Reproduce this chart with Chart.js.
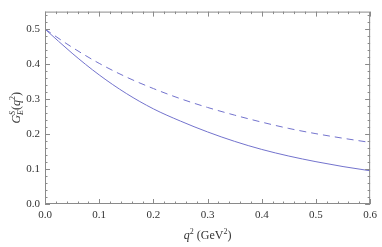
<!DOCTYPE html>
<html>
<head>
<meta charset="utf-8">
<script src="https://cdn.jsdelivr.net/npm/chart.js@4.4.0/dist/chart.umd.min.js"></script>
<style>
  body { margin: 0; background: #fff; }
  canvas { display: block; }
</style>
</head>
<body>
<canvas id="myChart" width="382" height="247"></canvas>
<script>
// values
const qValues      = [0.0, 0.05, 0.1, 0.15, 0.2, 0.25, 0.3, 0.35, 0.4, 0.45, 0.5, 0.55, 0.6];
const solidValues  = [0.500, 0.431, 0.369, 0.316, 0.272, 0.237, 0.206, 0.179, 0.156, 0.137, 0.121, 0.107, 0.095];
const dashedValues = [0.500, 0.448, 0.402, 0.363, 0.330, 0.301, 0.276, 0.254, 0.234, 0.216, 0.201, 0.188, 0.176];
const xTicks = [0.0, 0.1, 0.2, 0.3, 0.4, 0.5, 0.6];
const yTicks = [0.0, 0.1, 0.2, 0.3, 0.4, 0.5];

const lineColor = 'rgb(115, 115, 205)';
const frameColor = '#8a8a8a';
const serif = 'Liberation Serif';

function toPoints(ys) {
  return qValues.map((q, i) => ({ x: q, y: ys[i] }));
}

// frame on all sides with inward ticks (major + minor), plus the axis titles
const framePlugin = {
  id: 'frame',
  afterDraw(chart) {
    const ctx = chart.ctx;
    const a = chart.chartArea;
    const xs = chart.scales.x;
    const ys = chart.scales.y;
    ctx.save();
    ctx.strokeStyle = frameColor;
    ctx.lineWidth = 1;
    ctx.strokeRect(a.left + 0.5, a.top + 0.5, a.right - a.left - 1, a.bottom - a.top - 1);

    ctx.beginPath();
    for (let i = 0; i <= 30; i++) {
      const v = i * 0.02;
      const px = Math.round(xs.getPixelForValue(v)) + 0.5;
      const len = (i % 5 === 0) ? 5 : 2.5;
      ctx.moveTo(px, a.bottom); ctx.lineTo(px, a.bottom - len);
      ctx.moveTo(px, a.top); ctx.lineTo(px, a.top + len);
    }
    for (let i = 0; i <= 27; i++) {
      const v = i * 0.02;
      const py = Math.round(ys.getPixelForValue(v)) + 0.5;
      const len = (i % 5 === 0) ? 5 : 2.5;
      ctx.moveTo(a.left, py); ctx.lineTo(a.left + len, py);
      ctx.moveTo(a.right, py); ctx.lineTo(a.right - len, py);
    }
    ctx.stroke();

    // x title: q^2 (GeV^2)
    ctx.fillStyle = '#333';
    ctx.textBaseline = 'alphabetic';
    const parts = [
      { t: 'q', f: 'italic 12px "' + serif + '"', dy: 0 },
      { t: '2', f: '8px "' + serif + '"', dy: -5 },
      { t: ' (GeV', f: '12px "' + serif + '"', dy: 0 },
      { t: '2', f: '8px "' + serif + '"', dy: -5 },
      { t: ')', f: '12px "' + serif + '"', dy: 0 }
    ];
    let total = 0;
    parts.forEach(p => { ctx.font = p.f; p.w = ctx.measureText(p.t).width; total += p.w; });
    let x = (a.left + a.right) / 2 - total / 2;
    const base = 239;
    parts.forEach(p => { ctx.font = p.f; ctx.fillText(p.t, x, base + p.dy); x += p.w; });

    // y title: G_E^S(q^2), rotated
    ctx.translate(16, (a.top + a.bottom) / 2);
    ctx.rotate(-Math.PI / 2);
    const yp = [
      { t: 'G', f: 'italic 12px "' + serif + '"', dy: 0, adv: true },
      { t: 'S', f: 'italic 8px "' + serif + '"', dy: -5, adv: false },
      { t: 'E', f: 'italic 8px "' + serif + '"', dy: 3, adv: true },
      { t: '(', f: '12px "' + serif + '"', dy: 0, adv: true },
      { t: 'q', f: 'italic 12px "' + serif + '"', dy: 0, adv: true },
      { t: '2', f: '8px "' + serif + '"', dy: -5, adv: true },
      { t: ')', f: '12px "' + serif + '"', dy: 0, adv: true }
    ];
    total = 0;
    yp.forEach(p => { ctx.font = p.f; p.w = ctx.measureText(p.t).width; if (p.adv) total += p.w; });
    x = -total / 2;
    yp.forEach(p => {
      ctx.font = p.f;
      ctx.fillText(p.t, x, 4 + p.dy);
      if (p.adv) x += p.w;
    });
    ctx.restore();
  }
};

const ctx = document.getElementById('myChart').getContext('2d');
new Chart(ctx, {
  type: 'line',
  data: {
    datasets: [
      {
        label: 'solid',
        data: toPoints(solidValues),
        borderColor: lineColor,
        borderWidth: 1,
        pointRadius: 0,
        cubicInterpolationMode: 'monotone',
        fill: false
      },
      {
        label: 'dashed',
        data: toPoints(dashedValues),
        borderColor: lineColor,
        borderWidth: 1,
        borderDash: [7, 5],
        pointRadius: 0,
        cubicInterpolationMode: 'monotone',
        fill: false
      }
    ]
  },
  options: {
    responsive: false,
    devicePixelRatio: 1,
    animation: false,
    layout: { padding: { top: 1, right: 9, left: 0, bottom: 0 } },
    plugins: {
      legend: { display: false },
      tooltip: { enabled: false }
    },
    scales: {
      x: {
        type: 'linear',
        min: 0,
        max: 0.6,
        afterBuildTicks: s => { s.ticks = xTicks.map(v => ({ value: v })); },
        afterFit: s => { s.height = 43; },
        grid: { display: false, drawTicks: false },
        border: { display: false },
        ticks: {
          padding: 5,
          maxRotation: 0,
          color: '#333',
          font: { family: serif, size: 11 },
          callback: v => Number(v).toFixed(1)
        }
      },
      y: {
        type: 'linear',
        min: 0,
        max: 0.55,
        afterBuildTicks: s => { s.ticks = yTicks.map(v => ({ value: v })); },
        afterFit: s => { s.width = 45; },
        grid: { display: false, drawTicks: false },
        border: { display: false },
        ticks: {
          padding: 5,
          color: '#333',
          font: { family: serif, size: 11 },
          callback: v => Number(v).toFixed(1)
        }
      }
    }
  },
  plugins: [framePlugin]
});
</script>
</body>
</html>
